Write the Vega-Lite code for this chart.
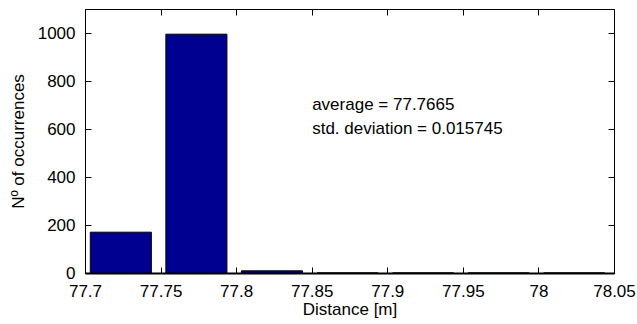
{
  "$schema": "https://vega.github.io/schema/vega-lite/v6.json",
  "width": 529,
  "height": 264,
  "autosize": {"type": "none"},
  "padding": {"left": 85, "top": 9, "right": 23, "bottom": 51},
  "background": "white",
  "config": {
    "view": {"stroke": "black", "strokeWidth": 1},
    "font": "Liberation Sans",
    "axis": {
      "grid": false,
      "domain": false,
      "ticks": true,
      "tickColor": "black",
      "tickWidth": 1,
      "labelColor": "black",
      "titleColor": "black",
      "labelFont": "Liberation Sans",
      "titleFont": "Liberation Sans",
      "labelFontSize": 17,
      "titleFontSize": 17,
      "titleFontWeight": "normal",
      "tickSize": -6,
      "labelPadding": 16
    }
  },
  "layer": [
    {
      "data": {
        "values": [
          {"start": 77.7035, "end": 77.7439, "count": 170},
          {"start": 77.7535, "end": 77.7939, "count": 995},
          {"start": 77.8035, "end": 77.8439, "count": 9},
          {"start": 77.8535, "end": 77.8939, "count": 0},
          {"start": 77.9035, "end": 77.9439, "count": 0},
          {"start": 77.9535, "end": 77.9939, "count": 0},
          {"start": 78.0035, "end": 78.0439, "count": 0}
        ]
      },
      "mark": {"type": "bar", "fill": "#000090", "stroke": "black", "strokeWidth": 1, "orient": "vertical"},
      "encoding": {
        "x": {
          "field": "start",
          "type": "quantitative",
          "scale": {"domain": [77.7, 78.05], "nice": false, "zero": false, "padding": 0},
          "axis": {
            "orient": "bottom",
            "values": [77.7, 77.75, 77.8, 77.85, 77.9, 77.95, 78, 78.05],
            "format": "~g",
            "title": "Distance [m]",
            "titlePadding": 2,
            "labelFlush": false,
            "labelOverlap": false,
            "domain": true,
            "domainColor": "black",
            "domainWidth": 2
          }
        },
        "x2": {"field": "end"},
        "y": {
          "field": "count",
          "type": "quantitative",
          "scale": {"domain": [0, 1100], "nice": false, "padding": 0},
          "axis": {
            "orient": "left",
            "values": [0, 200, 400, 600, 800, 1000],
            "format": "d",
            "title": "Nº of occurrences",
            "titlePadding": 10,
            "labelFlush": false,
            "labelOverlap": false
          }
        },
        "y2": {"datum": 0}
      }
    },
    {
      "data": {"values": [{"label": "stats"}]},
      "mark": {
        "type": "text",
        "align": "left",
        "baseline": "middle",
        "fontSize": 17,
        "lineHeight": 24,
        "font": "Liberation Sans",
        "color": "black",
        "text": ["average = 77.7665", "std. deviation = 0.015745"]
      },
      "encoding": {
        "x": {
          "datum": 77.8503,
          "type": "quantitative",
          "axis": {
            "orient": "top",
            "values": [77.7, 77.75, 77.8, 77.85, 77.9, 77.95, 78, 78.05],
            "labels": false,
            "title": null
          }
        },
        "y": {
          "datum": 700,
          "type": "quantitative",
          "axis": {
            "orient": "right",
            "values": [0, 200, 400, 600, 800, 1000],
            "labels": false,
            "title": null
          }
        }
      }
    }
  ],
  "resolve": {"axis": {"x": "independent", "y": "independent"}}
}
